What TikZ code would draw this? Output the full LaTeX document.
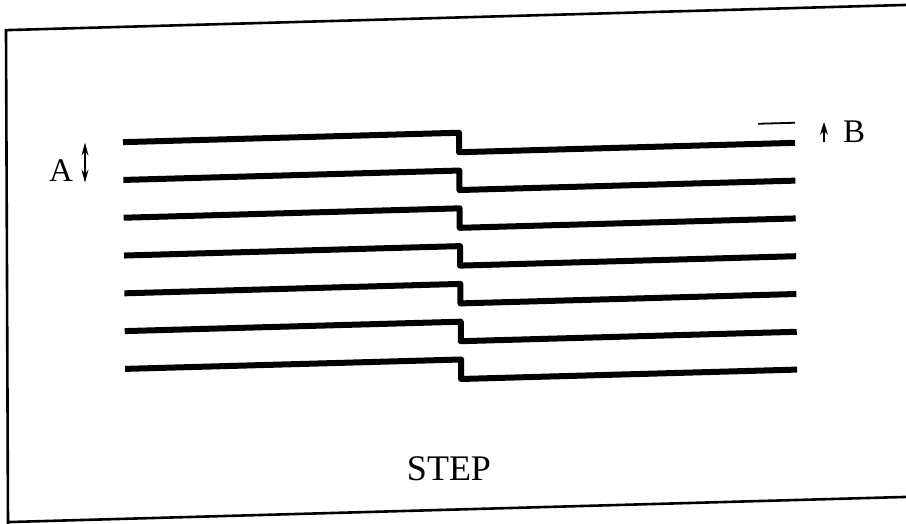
\documentclass[tikz,border=0pt]{standalone}
\usepackage{fontspec}
\setmainfont{Liberation Serif}
\usetikzlibrary{arrows.meta}
\tikzset{
  frame/.style={line width=2.6pt, line cap=butt},
  layer/.style={line width=6pt, line join=round, line cap=butt},
  thinmark/.style={line width=1.8pt},
  label/.style={font=\fontsize{33}{38}\selectfont, inner sep=0pt},
}
\begin{document}
\begin{tikzpicture}[x=1pt, y=-1pt]
\useasboundingbox (0,0) rectangle (906,524);
% sheared frame: horizontal lines rise slightly to the right
\begin{scope}[x={(1pt,0.028pt)}, y={(0pt,-1pt)}]
  % outer frame
  \coordinate (fTR) at (930,30.3);
  \coordinate (fTL) at (6,30.3);
  \coordinate (fBL) at (8,524);
  \coordinate (fB0) at (7,522.3);
  \coordinate (fBR) at (930,522.3);
  \draw[frame] (fTR) -- (fTL) -- (fBL);
  \draw[frame] (fB0) -- (fBR);
  % seven layers, each offset downwards by a step
  \foreach \i in {0,...,6} {
    \pgfmathsetmacro{\v}{145.6+37.8*\i}
    \pgfmathsetmacro{\w}{\v+19.5}
    \pgfmathsetmacro{\s}{0.35*\i}
    \coordinate (l\i a) at (123+\s,\v);
    \coordinate (l\i b) at (459+\s,\v);
    \coordinate (l\i c) at (459+\s,\w);
    \coordinate (l\i d) at (795+\s,\w);
    \draw[layer] (l\i a) -- (l\i b) -- (l\i c) -- (l\i d);
  }
  % step height marker B
  \coordinate (bdash0) at (758,145);
  \coordinate (bdash1) at (795,145);
  \draw[thinmark] (bdash0) -- (bdash1);
  \coordinate (barr0) at (824,165.5);
  \coordinate (barr1) at (824,145);
  \draw[line width=1.5pt, -{Stealth[length=13pt,width=8pt]}] (barr0) -- (barr1);
  % layer spacing marker A
  \coordinate (aarr0) at (85,145);
  \coordinate (aarr1) at (85,185);
  \draw[line width=1.5pt, {Stealth[length=13pt,width=7pt]}-{Stealth[length=13pt,width=7pt]}] (aarr0) -- (aarr1);
\end{scope}
\node[label] (A) at (61,171) {A};
\node[label] (B) at (854,132) {B};
\node[label, font=\fontsize{36}{40}\selectfont] (step) at (449,469) {STEP};
\end{tikzpicture}
\end{document}
